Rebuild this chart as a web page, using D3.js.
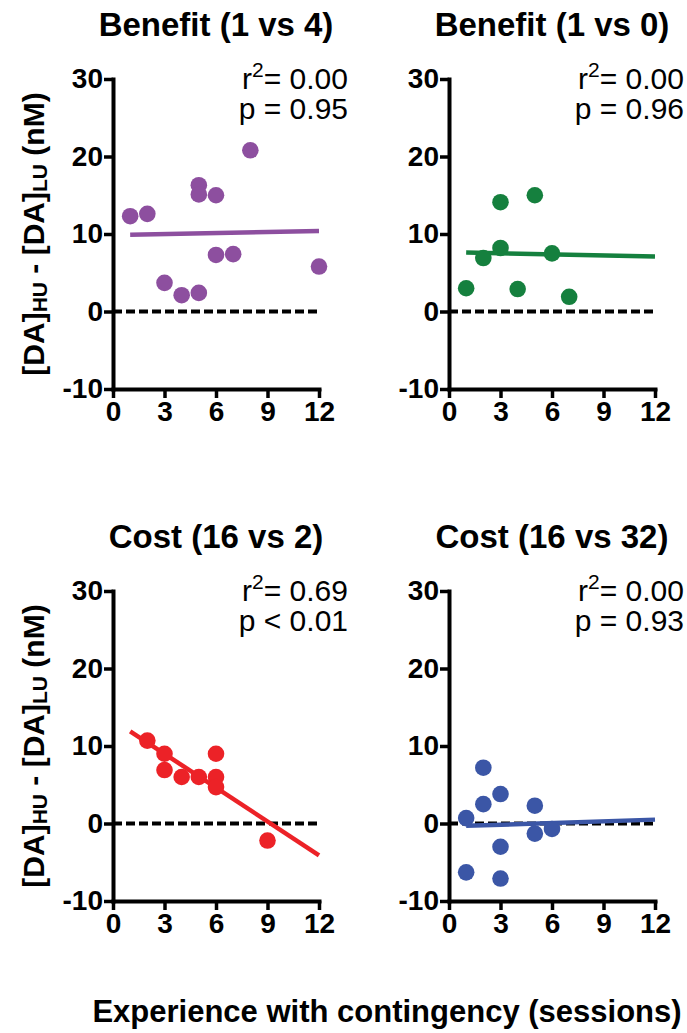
<!DOCTYPE html>
<html lang="en">
<head>
    <meta charset="UTF-8">
    <script src="https://d3js.org/d3.v7.min.js"></script>
    <title>DA difference vs experience</title>
    <style>
        body {
            margin: 0;
            background: #fff;
        }

        svg {
            display: block;
            font-family: "Liberation Sans", Arial, sans-serif;
        }

        .axis .tick text {
            font-size: 28px;
            font-weight: bold;
            fill: #000;
        }
    </style>
</head>
<body>
    <section></section>

    <script>
        // tick labels
        const xTicks = [0, 3, 6, 9, 12];
        const yTicks = [-10, 0, 10, 20, 30];

        // panel texts
        const panelTitles = ['Benefit (1 vs 4)', 'Benefit (1 vs 0)', 'Cost (16 vs 2)', 'Cost (16 vs 32)'];
        const r2Values = ['0.00', '0.00', '0.69', '0.00'];
        const pValues = ['= 0.95', '= 0.96', '< 0.01', '= 0.93'];
        const colors = ['#8d4f9f', '#15803e', '#ec2227', '#3b56a6'];

        // sessions (x) and [DA]HU - [DA]LU in nM (y)
        const benefit14Sessions = [1, 2, 3, 4, 5, 5, 5, 6, 6, 7, 8, 12];
        const benefit14Diff = [12.3, 12.6, 3.7, 2.1, 16.3, 15.1, 2.4, 15.0, 7.3, 7.4, 20.8, 5.8];

        const benefit10Sessions = [1, 2, 3, 3, 4, 5, 6, 7];
        const benefit10Diff = [3.0, 6.9, 14.1, 8.2, 2.9, 15.0, 7.5, 1.9];

        const cost162Sessions = [2, 3, 3, 4, 5, 6, 6, 6, 9];
        const cost162Diff = [10.7, 9.0, 6.9, 6.0, 6.0, 9.0, 6.0, 4.7, -2.2];

        const cost1632Sessions = [1, 1, 2, 2, 3, 3, 3, 5, 5, 6];
        const cost1632Diff = [0.7, -6.3, 7.2, 2.5, 3.8, -3.0, -7.1, 2.3, -1.3, -0.7];

        // regression lines: value at x = 1 and x = 12
        const fitSessions = [1, 12];
        const benefit14Fit = [9.9, 10.4];
        const benefit10Fit = [7.6, 7.1];
        const cost162Fit = [11.9, -4.1];
        const cost1632Fit = [-0.3, 0.5];

        const panels = [
            { xs: benefit14Sessions, ys: benefit14Diff, fit: benefit14Fit },
            { xs: benefit10Sessions, ys: benefit10Diff, fit: benefit10Fit },
            { xs: cost162Sessions, ys: cost162Diff, fit: cost162Fit },
            { xs: cost1632Sessions, ys: cost1632Diff, fit: cost1632Fit }
        ];

        const w = 687;
        const h = 1033;
        const pw = 206;
        const ph = 310;
        const lefts = [113, 449, 113, 449];
        const tops = [79, 79, 591, 591];

        const svg = d3.select('section')
            .append('svg')
            .attr('width', w)
            .attr('height', h);

        panels.forEach((p, i) => {
            const x0 = lefts[i];
            const y0 = tops[i];

            const xScale = d3.scaleLinear().domain([0, 12]).range([x0, x0 + pw]);
            const yScale = d3.scaleLinear().domain([-10, 30]).range([y0 + ph, y0]);

            const g = svg.append('g');

            // axes
            const yAxis = d3.axisLeft(yScale)
                .tickValues(yTicks)
                .tickFormat(d => String(d))
                .tickSize(9)
                .tickSizeOuter(0)
                .tickPadding(1);

            const xAxis = d3.axisBottom(xScale)
                .tickValues(xTicks)
                .tickFormat(d => String(d))
                .tickSize(9)
                .tickSizeOuter(0)
                .tickPadding(3);

            g.append('g')
                .attr('class', 'axis')
                .attr('transform', 'translate(' + x0 + ',0)')
                .call(yAxis);

            g.append('g')
                .attr('class', 'axis')
                .attr('transform', 'translate(0,' + (y0 + ph) + ')')
                .call(xAxis);

            g.selectAll('.axis .domain')
                .attr('stroke', '#000')
                .attr('stroke-width', 4)
                .attr('stroke-linecap', 'square');
            g.selectAll('.axis .tick line')
                .attr('stroke', '#000')
                .attr('stroke-width', 3.5);
            g.selectAll('.axis text')
                .attr('font-family', null);

            // zero line
            g.append('line')
                .attr('x1', xScale(0))
                .attr('x2', xScale(12))
                .attr('y1', yScale(0))
                .attr('y2', yScale(0))
                .attr('stroke', '#000')
                .attr('stroke-width', 4)
                .attr('stroke-dasharray', '9,4');

            // fit line
            g.append('line')
                .attr('x1', xScale(fitSessions[0]))
                .attr('x2', xScale(fitSessions[1]))
                .attr('y1', yScale(p.fit[0]))
                .attr('y2', yScale(p.fit[1]))
                .attr('stroke', colors[i])
                .attr('stroke-width', 4.5);

            // points
            g.selectAll('circle')
                .data(p.xs.map((d, k) => [d, p.ys[k]]))
                .enter()
                .append('circle')
                .attr('cx', d => xScale(d[0]))
                .attr('cy', d => yScale(d[1]))
                .attr('r', 8.3)
                .attr('fill', colors[i]);

            // title
            g.append('text')
                .attr('x', x0 + pw / 2)
                .attr('y', y0 - 43)
                .attr('text-anchor', 'middle')
                .attr('font-size', 33)
                .attr('font-weight', 'bold')
                .text(panelTitles[i]);

            // stats
            const r2 = g.append('text')
                .attr('x', x0 + pw + 29)
                .attr('y', y0 + 10)
                .attr('text-anchor', 'end')
                .attr('font-size', 30);
            r2.append('tspan').text('r');
            r2.append('tspan').attr('dy', -12).attr('font-size', 21).text('2');
            r2.append('tspan').attr('dy', 12).text('= ' + r2Values[i]);

            g.append('text')
                .attr('x', x0 + pw + 29)
                .attr('y', y0 + 40)
                .attr('text-anchor', 'end')
                .attr('font-size', 30)
                .text('p ' + pValues[i]);

            // y title on left column
            if (i % 2 === 0) {
                const yt = g.append('text')
                    .attr('transform', 'translate(44,' + (y0 + ph / 2) + ') rotate(-90)')
                    .attr('text-anchor', 'middle')
                    .attr('font-size', 30)
                    .attr('font-weight', 'bold');
                yt.append('tspan').text('[DA]');
                yt.append('tspan').attr('dy', 3).attr('font-size', 21).text('HU');
                yt.append('tspan').attr('dy', -3).text(' - [DA]');
                yt.append('tspan').attr('dy', 3).attr('font-size', 21).text('LU');
                yt.append('tspan').attr('dy', -3).text(' (nM)');
            }
        });

        svg.append('text')
            .attr('x', 387)
            .attr('y', 1022)
            .attr('text-anchor', 'middle')
            .attr('font-size', 31)
            .attr('font-weight', 'bold')
            .text('Experience with contingency (sessions)');
    </script>
</body>
</html>
